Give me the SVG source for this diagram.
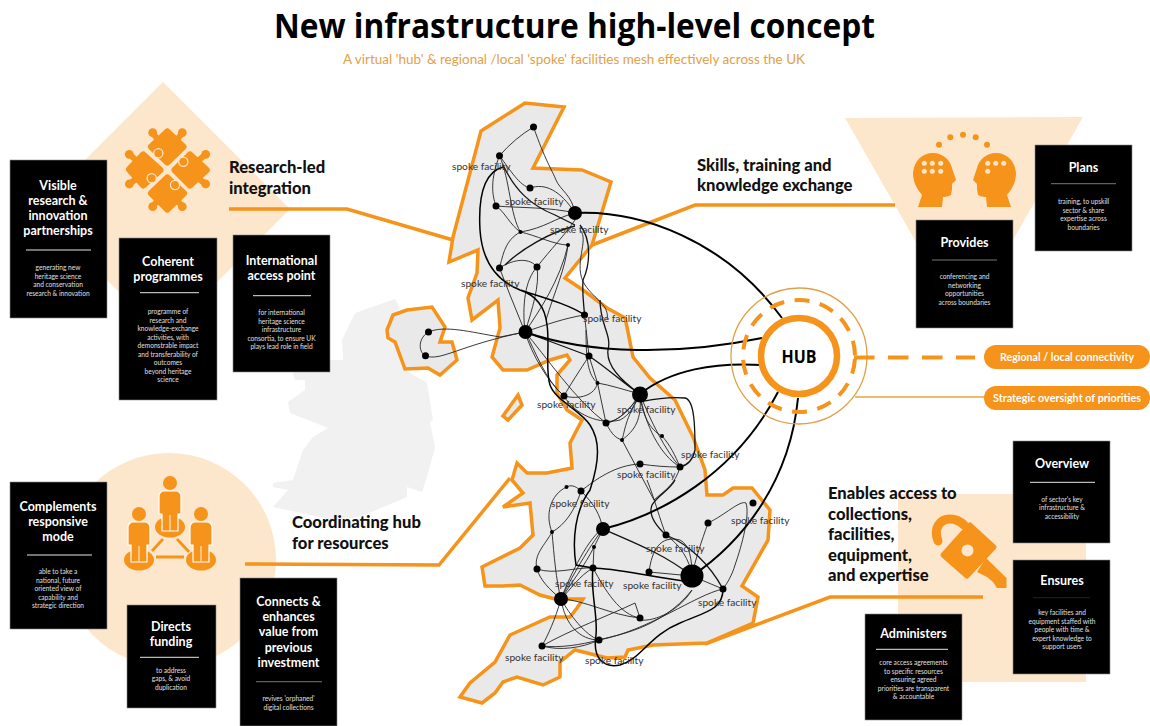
<svg xmlns="http://www.w3.org/2000/svg" width="1150" height="726" viewBox="0 0 1150 726">
<style>
text{font-family:"Lato","Open Sans","Liberation Sans",sans-serif}
.bg{fill:#FCE7CC}
.irl{fill:#F1F1F1}
.map{fill:#E9E9E9;stroke:#F5931A;stroke-width:3.5;stroke-linejoin:miter}
.lead{fill:none;stroke:#F5931A;stroke-width:3.5;stroke-linejoin:miter}
.box{fill:#000;stroke:#8a8a8a;stroke-width:.6}
.bt{fill:#fff;font-size:12.5px;font-weight:700;text-anchor:middle}
.bb{fill:#fff;font-size:6.6px;text-anchor:middle;opacity:.88}
.rule{stroke:#e6e6e6;stroke-width:1}
.rd{stroke:#777;stroke-width:1}
.sec{fill:#111;font-size:16.6px;font-weight:900}
.lbl{fill:#333;font-size:10.2px}
.t{fill:none;stroke:#222;stroke-width:.9}
.m{fill:none;stroke:#111;stroke-width:1.3}
.k{fill:none;stroke:#000;stroke-width:2}
.o{fill:#F5931A}
.n{fill:#000}
.pill{fill:#F5931A}
.pt{fill:#fff;font-size:11px;font-weight:700;text-anchor:middle}
</style>
<rect width="1150" height="726" fill="#fff"/>
<text x="274" y="38" font-size="34" font-weight="700" fill="#000" textLength="601" lengthAdjust="spacingAndGlyphs" style="font-family:'Open Sans','Liberation Sans',sans-serif">New infrastructure high-level concept</text>
<text x="343" y="64" font-size="13.5" fill="#E2A046" textLength="462" lengthAdjust="spacingAndGlyphs">A virtual 'hub' &amp; regional /local 'spoke' facilities mesh effectively across the UK</text>

<polygon class="bg" points="163,82 290,209 163,336 36,209"/>
<circle class="bg" cx="169" cy="560" r="107"/>
<polygon class="bg" points="845,118 1083,117 964,326"/>
<rect class="bg" x="898" y="494" width="188" height="188"/>
<polygon class="irl" points="395,299 400,308 387,323 386,340 395,343 397,353 405,370 427,383 433,420 430,422 435,447 427,477 422,492 407,487 407,497 360,517 333,520 273,507 288,490 273,487 273,483 293,480 303,450 313,437 328,428 290,413 288,402 305,390 305,380 295,380 293,373 330,360 343,360 342,340 355,313"/>

<polygon id="map-ni" class="map" points="387,330 393,315 407,310 432,307 445,327 440,342 452,342 457,360 440,375 428,368 405,369 395,342 388,338"/>
<polygon id="map-gb" class="map" points="481,131 525,103 564,107 533,168 582,170 611,182 592,245 565,278 583,290 607,308 625,318 627,327 633,357 650,378 675,400 693,437 705,470 707,495 723,495 733,488 752,488 770,510 768,540 742,586 758,597 753,623 707,643 653,645 628,650 625,657 607,658 575,650 560,662 560,677 543,685 517,677 503,682 495,693 482,703 460,697 470,683 495,662 510,635 550,617 570,617 577,608 583,599 568,599 555,599 540,595 520,585 503,586 485,586 482,567 520,548 533,535 530,503 503,507 523,493 512,480 517,463 527,473 547,473 572,468 570,443 582,420 567,410 557,393 557,375 570,360 567,355 550,360 527,370 503,370 492,357 500,328 498,300 472,320 468,298 477,273 478,250 449,262 453,237"/>
<polygon id="map-isle" class="map" points="518,395 522,405 508,420 503,416"/>

<g id="leaders">
<polyline class="lead" points="229,209 347,209 453,240"/>
<polyline class="lead" points="895,205 695,205 592,245"/>
<polyline class="lead" points="245,564 439,565 510,478"/>
<polyline class="lead" points="983,597 830,597 705,644"/>
</g>

<g id="connectors">
<path class="t" d="M499.5,155.7Q515,138 533.5,127M533.5,127C545,160 552,170 556,180S572,195 575,213M499.5,155.7C510,170 520,186 530,188M530,188C545,183 560,190 575,213M499.5,155.7C490,180 492,195 496,206M496,206C520,208 550,207 575,213M499.5,155.7C510,180 510,215 520.5,232M496,206C505,212 510,225 520.5,232M520.5,232C545,228 555,218 575,213M520.5,232C535,235 555,245 568,245M520.5,232C505,240 503,255 499.5,268M499.5,268C515,258 530,258 537,267M537,267C550,250 565,235 575,220M568,245C565,270 555,290 546,320M580,230C590,240 572,265 585,285C595,300 610,305 607,320"/>
<path class="t" d="M499.5,268L510,295L525,332M537,267C525,280 522,305 525,332M537,267C540,285 532,310 525,332M568,245C560,280 540,310 525,332M525,332C545,325 565,318 584.5,315M428.5,332C445,325 470,332 500,337L525,332M425.5,355.7C440,362 460,345 525,332M428.5,332C418,338 418,352 425.5,355.7M525,332C535,350 545,380 564,396M525,332C532,355 548,382 564,396M525,332C545,355 575,400 606,423M564,396C575,415 600,425 620,420C630,415 635,405 640,394M584.5,315L589,356M586,330C586,360 588,375 597.5,383M589,356C580,370 570,385 564,396M589,356L597.5,383L606,423M597.5,383C610,385 625,390 640,394M564,396C580,400 595,395 597.5,383M640,394C630,410 620,420 606,423M640,394C632,407 618,422 606,423M640,394C625,420 625,430 622,440M640,394C642,420 635,430 622,440M606,423C612,435 616,438 622,440M622,440L654,500M640,394C642,415 650,430 662,436M662,436C670,445 675,455 680,467M640,394C650,420 665,450 680,467M640,394C645,425 660,455 680,467M640,464C655,466 665,467 680,467M640,464C615,465 595,480 581,491M680,467C675,485 665,490 654,500"/>
<path class="t" d="M581,491C575,485 570,485 566.5,487M566.5,487C550,495 545,515 552,532M581,491C595,505 600,515 603,529M581,491C575,510 565,525 552,532M552,532C545,545 533,555 537,569M552,532C554,555 556,580 561,599M537,569C540,580 550,590 561,599M537,569C555,575 575,567 593,568M603,529C590,535 570,575 561,599M603,529C594,540 575,570 561,599M603,529L594,547M594,547L593,568M594,547C585,565 570,585 561,599M593,568C580,575 570,590 561,599M593,568C605,590 620,615 640,618M649,572L692,576M649,572C652,550 660,535 680,540C690,545 692,560 692,576M666,535C680,545 690,560 692,576M647,480C655,500 660,520 666,535M708,523C702,540 695,560 692,576M708,523C725,515 740,500 746,503C750,515 742,545 735,565C732,575 728,582 723,589M692,576L723,589M692,590C680,610 655,622 640,620M723,589C695,595 650,630 599,640M561,599C585,600 610,615 640,618M561,599C570,615 585,635 599,640M561,599C565,625 580,640 599,640M561,599C555,620 548,635 542,646M542,646C560,648 580,645 599,640M542,646C560,651 582,648 599,640M542,646C570,630 610,615 635,603L640,618M599,640C615,635 660,630 692,590"/>
<path class="m" d="M503,165C515,190 530,205 555,215L575,225M575,226C550,232 520,250 505,265M580,225C592,240 590,265 583,280C582,295 584,305 584.5,315M600,300C600,325 612,335 608,350C606,365 620,380 640,394M589,356C610,370 625,385 640,394M525,332L589,356M603,529C640,545 665,555 692,576M666,535C655,525 648,515 652,505C658,495 670,490 675,480M666,535C690,545 710,565 723,589M640,402C650,400 665,396 685,398C695,400 695,430 695,450C693,460 688,465 680,467"/>
<path class="k" style="stroke-width:1.5" d="M503,167C485,172 478,195 480,230C482,260 495,280 520,290C545,298 570,305 584.5,315M520,290C535,295 545,305 547,325C550,345 545,370 550,385C555,400 580,410 590,425C600,440 600,460 590,490C575,510 572,540 576,565L593,568C615,568 650,577 692,582M593,568C590,590 598,615 596,635C592,660 605,668 620,665C640,660 650,635 680,623C705,612 723,610 723,589"/>
<path class="k" d="M575,213C640,210 725,240 782,318M525,332C590,355 680,355 762,338M640,394C670,370 715,362 762,365M603,529C660,515 735,475 778,392M692,576C745,540 790,480 798,398"/>
<g class="n">
<circle cx="533.5" cy="127" r="3.500"/><circle cx="499.5" cy="155.7" r="3.500"/><circle cx="530" cy="188" r="3.500"/><circle cx="496" cy="206" r="3.500"/><circle cx="575" cy="213" r="7"/><circle cx="520.5" cy="232" r="2"/><circle cx="568" cy="245" r="2"/><circle cx="499.5" cy="268" r="3.500"/><circle cx="537" cy="267" r="3.500"/><circle cx="584.5" cy="315" r="3.500"/><circle cx="525.5" cy="332" r="7"/><circle cx="589" cy="356" r="3.500"/><circle cx="597.5" cy="383" r="2"/><circle cx="640" cy="394.5" r="8"/><circle cx="564" cy="396" r="3.500"/><circle cx="606" cy="423" r="3.500"/><circle cx="622" cy="440" r="2"/><circle cx="662" cy="436" r="2"/><circle cx="680" cy="467" r="3.500"/><circle cx="640" cy="464" r="3.500"/><circle cx="581" cy="491" r="3.500"/><circle cx="566.5" cy="487" r="2"/><circle cx="428.5" cy="332" r="3.500"/><circle cx="425.5" cy="355.7" r="3.500"/><circle cx="603" cy="529" r="7"/><circle cx="552" cy="532" r="2"/><circle cx="594" cy="547" r="2"/><circle cx="537" cy="569" r="3.500"/><circle cx="593" cy="568" r="3.500"/><circle cx="649" cy="572" r="3.500"/><circle cx="666" cy="535" r="3.500"/><circle cx="708" cy="523" r="3.500"/><circle cx="753" cy="503" r="3.500"/><circle cx="692" cy="576" r="11.500"/><circle cx="723" cy="589" r="3.500"/><circle cx="561" cy="599" r="7"/><circle cx="640" cy="618" r="3.500"/><circle cx="599" cy="640" r="3.500"/><circle cx="542" cy="646" r="3.500"/>
</g>
</g>

<g id="spoke-labels" class="lbl">
<text x="452" y="170">spoke facility</text><text x="505" y="205">spoke facility</text><text x="550" y="233">spoke facility</text><text x="461" y="287">spoke facility</text><text x="583" y="322">spoke facility</text><text x="537" y="408">spoke facility</text><text x="617" y="413">spoke facility</text><text x="681" y="458">spoke facility</text><text x="617" y="478">spoke facility</text><text x="551" y="507">spoke facility</text><text x="646" y="552">spoke facility</text><text x="731" y="524">spoke facility</text><text x="555" y="587">spoke facility</text><text x="623" y="589">spoke facility</text><text x="698" y="606">spoke facility</text><text x="505" y="661">spoke facility</text><text x="585" y="664">spoke facility</text>
</g>

<g id="icon-puzzle">
<g class="o" stroke="#F5931A" stroke-width="7" stroke-linejoin="round">
<polygon points="167.3,132 183,146.7 167.300,162 151.500,146.700"/>
<polygon points="129.500,169.500 143.300,155 160,170 143.300,185"/>
<polygon points="175,170 190,155 206.300,170 190,185"/>
<polygon points="167.300,178 151.500,193.300 167.300,209 183.500,193.300"/>
</g>
<g class="o"><circle cx="152.700" cy="132.700" r="4.400"/><circle cx="182.300" cy="132.700" r="4.400"/><circle cx="129.300" cy="154.300" r="4.400"/><circle cx="129.300" cy="184" r="4.400"/><circle cx="205.700" cy="154.300" r="4.400"/><circle cx="205.700" cy="184" r="4.400"/><circle cx="152.700" cy="206.700" r="4.400"/><circle cx="182.300" cy="206.700" r="4.400"/></g>
<path d="M152.700,132.700L158,140M182.300,132.700L177,140M129.300,154.300L136,160M129.300,184L136,179M205.700,154.300L199,160M205.700,184L199,179M152.700,206.700L158,200M182.300,206.700L177,200" stroke="#F5931A" stroke-width="6" fill="none"/>
<g class="o" stroke="#FCE7CC" stroke-width="1.300"><circle cx="158.300" cy="153.300" r="4.600"/><circle cx="183.300" cy="161.700" r="4.600"/><circle cx="151.700" cy="178.300" r="4.600"/><circle cx="175" cy="185" r="4.600"/></g>
<polygon points="167.300,166.500 171,170 167.300,173.500 163.600,170" fill="#FCE7CC"/>
</g>

<g id="icon-people">
<path d="M163,539L152,551M177,539L189,552M156,557H184" stroke="#F5931A" stroke-width="2.800" fill="none"/>
<g class="o">
<circle cx="170" cy="483" r="7"/><ellipse cx="170" cy="527" rx="15" ry="10.500"/><circle cx="139" cy="514" r="7"/><ellipse cx="139" cy="560" rx="15" ry="10.500"/><circle cx="201" cy="514" r="7"/><ellipse cx="201" cy="560" rx="15" ry="10.500"/>
<g stroke="#fff" stroke-width="1.200"><path d="M159,496a5,5 0 0 1 5,-5h12a5,5 0 0 1 5,5v18h-3v17h-16v-17h-3z"/><path d="M128,527a5,5 0 0 1 5,-5h12a5,5 0 0 1 5,5v18h-3v17h-16v-17h-3z"/><path d="M190,527a5,5 0 0 1 5,-5h12a5,5 0 0 1 5,5v18h-3v17h-16v-17h-3z"/></g>
<path d="M170,515v16M139,546v16M201,546v16" stroke="#FCE7CC" stroke-width="1.200"/>
</g>
</g>

<g id="icon-heads" class="o">
<path d="M918,207L922,195C916,188 913,181 913,173C914,161 922,153 933,153C943,153 950,160 952,168L956,180L952,184L952,189L951,195C947,197 944,197 943,197L942,207Z"/>
<path d="M1011,207L1007,195C1013,188 1016,181 1016,173C1015,161 1007,153 996,153C986,153 979,160 977,168L973,180L977,184L977,189L978,195C982,197 985,197 986,197L987,207Z"/>
<circle cx="939" cy="144.7" r="3"/><circle cx="950.3" cy="137.3" r="3"/><circle cx="963" cy="134.7" r="3"/><circle cx="975.7" cy="137.3" r="3"/><circle cx="987" cy="144.7" r="3"/>
<g fill="#FCE7CC"><circle cx="924.3" cy="163.3" r="2.500"/><circle cx="932.3" cy="163.3" r="2.500"/><circle cx="940.7" cy="163.3" r="2.500"/><circle cx="924.3" cy="171.3" r="2.500"/><circle cx="932.3" cy="171.3" r="2.500"/><circle cx="940.7" cy="171.3" r="2.500"/><circle cx="987.7" cy="163.3" r="2.500"/><circle cx="995.7" cy="163.3" r="2.500"/><circle cx="1003.7" cy="163.3" r="2.500"/><circle cx="987.7" cy="171.3" r="2.500"/></g>
</g>

<g id="icon-key">
<path d="M938,541C933,528 940,519 950,519C956,519 960,521 964,525" fill="none" stroke="#F5931A" stroke-width="9" stroke-linecap="round"/>
<polygon class="o" points="970,525 994,547 967,576 943,555" stroke="#F5931A" stroke-width="5" stroke-linejoin="round"/>
<polygon class="o" points="986,558 1006.5,578 1006.5,588 997,588 993,582 987,577 977,572"/>
<circle cx="967.5" cy="550.5" r="6" fill="#FCE7CC"/>
</g>

<g id="hub">
<circle cx="799" cy="356" r="68" fill="none" stroke="#E2A046" stroke-width="1.300"/>
<circle cx="799" cy="356" r="56" fill="none" stroke="#F5931A" stroke-width="4" stroke-dasharray="15 10.6" stroke-dashoffset="-3"/>
<circle cx="799" cy="356" r="38" fill="#fff" stroke="#F5931A" stroke-width="6.500"/>
<text x="799" y="362.500" font-size="18" font-weight="700" fill="#000" text-anchor="middle" textLength="35" lengthAdjust="spacingAndGlyphs" style="font-family:'Open Sans',sans-serif">HUB</text>
</g>

<g id="regional">
<path d="M854,357.5H975" fill="none" stroke="#F5931A" stroke-width="4" stroke-dasharray="20.5 13.5"/>
<rect class="pill" x="984" y="345" width="166" height="24" rx="12"/>
<text class="pt" x="1067" y="361" textLength="134" lengthAdjust="spacingAndGlyphs">Regional / local connectivity</text>
</g>
<g id="strategic">
<path d="M855,397H985" fill="none" stroke="#E9A33F" stroke-width="1.500"/>
<rect class="pill" x="984" y="386" width="166" height="24" rx="12"/>
<text class="pt" x="1067" y="401.500" textLength="148" lengthAdjust="spacingAndGlyphs">Strategic oversight of priorities</text>
</g>

<g id="sec-research" class="sec"><text x="229" y="173">Research-led</text><text x="229" y="194">integration</text></g>
<g id="sec-skills" class="sec"><text x="697" y="171">Skills, training and</text><text x="697" y="191">knowledge exchange</text></g>
<g id="sec-coord" class="sec"><text x="292" y="528">Coordinating hub</text><text x="292" y="549">for resources</text></g>
<g id="sec-enables" class="sec"><text x="828" y="499">Enables access to</text><text x="828" y="519.500">collections,</text><text x="828" y="540">facilities,</text><text x="828" y="560.500">equipment,</text><text x="828" y="581">and expertise</text></g>

<g id="box-visible"><rect class="box" x="10" y="160" width="97" height="158"/>
<g class="bt"><text x="58" y="190">Visible</text><text x="58" y="205">research &amp;</text><text x="58" y="220">innovation</text><text x="58" y="235">partnerships</text></g>
<line class="rule" x1="26" x2="91" y1="250" y2="250"/>
<g class="bb"><text x="58" y="270">generating new</text><text x="58" y="278.500">heritage science</text><text x="58" y="287">and conservation</text><text x="58" y="295.500">research &amp; innovation</text></g></g>

<g id="box-coherent"><rect class="box" x="119" y="238" width="98" height="162"/>
<g class="bt"><text x="168" y="265.500">Coherent</text><text x="168" y="281">programmes</text></g>
<line class="rule" x1="140" x2="199" y1="292.700" y2="292.700"/>
<g class="bb"><text x="168" y="314">programme of</text><text x="168" y="322.500">research and</text><text x="168" y="331">knowledge-exchange</text><text x="168" y="339.600">activities, with</text><text x="168" y="348.200">demonstrable impact</text><text x="168" y="356.700">and transferability of</text><text x="168" y="365.300">outcomes</text><text x="168" y="373.800">beyond heritage</text><text x="168" y="382.400">science</text></g></g>

<g id="box-international"><rect class="box" x="233" y="235" width="97" height="137"/>
<g class="bt"><text x="281.500" y="264.500">International</text><text x="281.500" y="279.500">access point</text></g>
<line class="rule" x1="253" x2="311" y1="295.700" y2="295.700"/>
<g class="bb"><text x="281.500" y="315">for international</text><text x="281.500" y="323.500">heritage science</text><text x="281.500" y="332">infrastructure</text><text x="281.500" y="340.500">consortia, to ensure UK</text><text x="281.500" y="349">plays lead role in field</text></g></g>

<g id="box-complements"><rect class="box" x="10" y="482" width="97" height="147"/>
<g class="bt"><text x="58" y="510.500">Complements</text><text x="58" y="525.500">responsive</text><text x="58" y="540.500">mode</text></g>
<line class="rule" x1="27" x2="92" y1="555" y2="555"/>
<g class="bb"><text x="58" y="574">able to take a</text><text x="58" y="582.500">national, future</text><text x="58" y="591">oriented view of</text><text x="58" y="599.500">capability and</text><text x="58" y="608">strategic direction</text></g></g>

<g id="box-directs"><rect class="box" x="127" y="605" width="89" height="103"/>
<g class="bt"><text x="171" y="631">Directs</text><text x="171" y="646">funding</text></g>
<line class="rule" x1="140" x2="199" y1="657.300" y2="657.300"/>
<g class="bb"><text x="171" y="672.500">to address</text><text x="171" y="681">gaps, &amp; avoid</text><text x="171" y="689.500">duplication</text></g></g>

<g id="box-connects"><rect class="box" x="240" y="578" width="97" height="148"/>
<g class="bt"><text x="288.500" y="606">Connects &amp;</text><text x="288.500" y="621">enhances</text><text x="288.500" y="636">value from</text><text x="288.500" y="651.500">previous</text><text x="288.500" y="666.500">investment</text></g>
<line class="rd" x1="256" x2="322" y1="681.700" y2="681.700"/>
<g class="bb"><text x="288.500" y="701">revives 'orphaned'</text><text x="288.500" y="709.500">digital collections</text></g></g>

<g id="box-provides"><rect class="box" x="916" y="220" width="97" height="108"/>
<text class="bt" x="964.500" y="247">Provides</text>
<line class="rd" x1="932" x2="997" y1="260" y2="260"/>
<g class="bb"><text x="964.500" y="279">conferencing and</text><text x="964.500" y="287.500">networking</text><text x="964.500" y="296">opportunities</text><text x="964.500" y="304.500">across boundaries</text></g></g>

<g id="box-plans"><rect class="box" x="1035" y="145" width="97" height="106"/>
<text class="bt" x="1083.500" y="172">Plans</text>
<line class="rd" x1="1051" x2="1116" y1="183.700" y2="183.700"/>
<g class="bb"><text x="1083.500" y="204">training, to upskill</text><text x="1083.500" y="212.500">sector &amp; share</text><text x="1083.500" y="221">expertise across</text><text x="1083.500" y="229.500">boundaries</text></g></g>

<g id="box-overview"><rect class="box" x="1013" y="441" width="97" height="102"/>
<text class="bt" x="1062" y="467.500">Overview</text>
<line class="rule" x1="1030" x2="1095" y1="482.300" y2="482.300"/>
<g class="bb"><text x="1062" y="501.500">of sector's key</text><text x="1062" y="510">infrastructure &amp;</text><text x="1062" y="518.500">accessibility</text></g></g>

<g id="box-ensures"><rect class="box" x="1013" y="560" width="97" height="114"/>
<text class="bt" x="1062" y="585">Ensures</text>
<line x1="1033" x2="1090" y1="597.700" y2="597.700" stroke="#222" stroke-width="1"/>
<g class="bb"><text x="1062" y="615">key facilities and</text><text x="1062" y="623.500">equipment staffed with</text><text x="1062" y="632">people with time &amp;</text><text x="1062" y="640.500">expert knowledge to</text><text x="1062" y="649">support users</text></g></g>

<g id="box-administers"><rect class="box" x="865" y="614" width="97" height="106"/>
<text class="bt" x="913.500" y="638">Administers</text>
<line class="rule" x1="876" x2="948" y1="649.300" y2="649.300"/>
<g class="bb"><text x="913.500" y="665">core access agreements</text><text x="913.500" y="673.500">to specific resources</text><text x="913.500" y="682">ensuring agreed</text><text x="913.500" y="690.500">priorities are transparent</text><text x="913.500" y="699">&amp; accountable</text></g></g>
</svg>
